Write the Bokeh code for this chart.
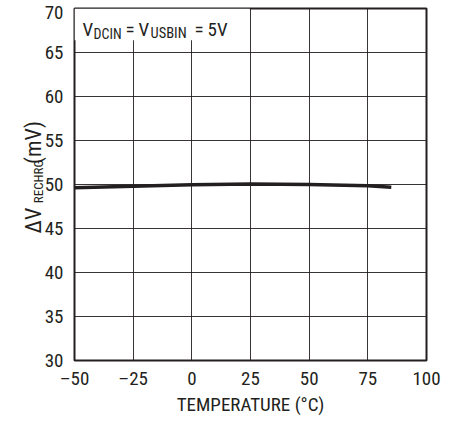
from bokeh.plotting import figure
from bokeh.models import Range1d, FixedTicker, Label, BoxAnnotation, LinearAxis
from bokeh.embed import file_html
from bokeh.resources import INLINE

# data
temperature = [-50, -25, 0, 25, 50, 75, 85]
delta_vrechrg = [49.62, 49.80, 49.97, 50.07, 50.01, 49.86, 49.70]

x_ticks = [-50, -25, 0, 25, 50, 75, 100]
x_tick_labels = ["\u201350", "\u201325", "0", "25", "50", "75", "100"]
y_ticks = [30, 35, 40, 45, 50, 55, 60, 65, 70]

FONT = "'Roboto Condensed', 'Liberation Sans Narrow', Roboto, sans-serif"
INK = "#231f20"

p = figure(width=458, height=423, output_backend="svg", toolbar_location=None,
           x_range=Range1d(-50, 100), y_range=Range1d(30, 70),
           min_border_left=74, min_border_right=32, min_border_top=8, min_border_bottom=63)
p.outline_line_color = INK
p.outline_line_width = 2
p.background_fill_color = "white"
p.border_fill_color = "white"

def plain(ax, size):
    ax.axis_line_color = None
    ax.major_tick_line_color = None
    ax.minor_tick_line_color = None
    ax.major_tick_out = 0
    ax.major_tick_in = 0
    ax.minor_tick_out = 0
    ax.minor_tick_in = 0
    ax.major_label_text_font = FONT
    ax.major_label_text_font_size = size
    ax.major_label_text_color = INK

plain(p.xaxis[0], "19px")
plain(p.yaxis[0], "19px")

p.xaxis[0].ticker = FixedTicker(ticks=x_ticks)
p.xaxis[0].major_label_overrides = {t: l for t, l in zip(x_ticks, x_tick_labels)}
p.xaxis[0].major_label_standoff = 6
p.xaxis[0].axis_label = "TEMPERATURE (\u00b0C)"
p.xaxis[0].axis_label_text_font = FONT
p.xaxis[0].axis_label_text_font_size = "19px"
p.xaxis[0].axis_label_text_font_style = "normal"
p.xaxis[0].axis_label_text_color = INK
p.xaxis[0].axis_label_standoff = 0

# the top label ("70") sits a little below its grid line so it stays on the page
top_label_pos = y_ticks[-1] - 0.5
p.yaxis[0].ticker = FixedTicker(ticks=y_ticks[:-1] + [top_label_pos])
p.yaxis[0].major_label_overrides = {top_label_pos: str(y_ticks[-1])}
p.yaxis[0].major_label_standoff = 11

for g in (p.xgrid[0], p.ygrid[0]):
    g.grid_line_color = INK
    g.grid_line_width = 1
    g.grid_line_alpha = 0.9
p.xgrid[0].ticker = FixedTicker(ticks=x_ticks)
p.ygrid[0].ticker = FixedTicker(ticks=y_ticks)

# rotated y-axis title with subscript, built from tick labels of two label-only axes
p.extra_y_ranges = {"ylab": Range1d(start=360, end=8)}
sub_axis = LinearAxis(y_range_name="ylab", ticker=FixedTicker(ticks=[181]),
                      major_label_overrides={181: "RECHRG"}, major_label_orientation="parallel")
plain(sub_axis, "13px")
sub_axis.major_label_standoff = -4
p.add_layout(sub_axis, "left")

main_axis = LinearAxis(y_range_name="ylab", ticker=FixedTicker(ticks=[220, 142]),
                       major_label_overrides={220: "\u0394V", 142: "(mV)"},
                       major_label_orientation="parallel")
plain(main_axis, "22px")
main_axis.major_label_standoff = -18
p.add_layout(main_axis, "left")

# white backdrop for the condition note
p.add_layout(BoxAnnotation(left=-50, right=24.7, bottom=66.4, top=70,
                           fill_color="white", fill_alpha=1.0, line_color=None, level="underlay"))

p.line(temperature, delta_vrechrg, line_color=INK, line_width=3.5)

# condition note with subscripts
note = [("V", 8, 0, 19), ("DCIN", 19, -4, 14), ("=", 51, 0, 19), ("V", 64, 0, 19),
        ("USBIN", 76, -4, 14.5), ("=", 120, 0, 19), ("5V", 133, 0, 19)]
for txt, dx, dy, fs in note:
    p.add_layout(Label(x=-50, y=67.6, x_offset=dx, y_offset=dy, text=txt,
                       text_font=FONT, text_font_size=f"{fs}px", text_color=INK,
                       text_baseline="alphabetic", text_align="left"))

open("out.html", "w").write(file_html(p, INLINE))
